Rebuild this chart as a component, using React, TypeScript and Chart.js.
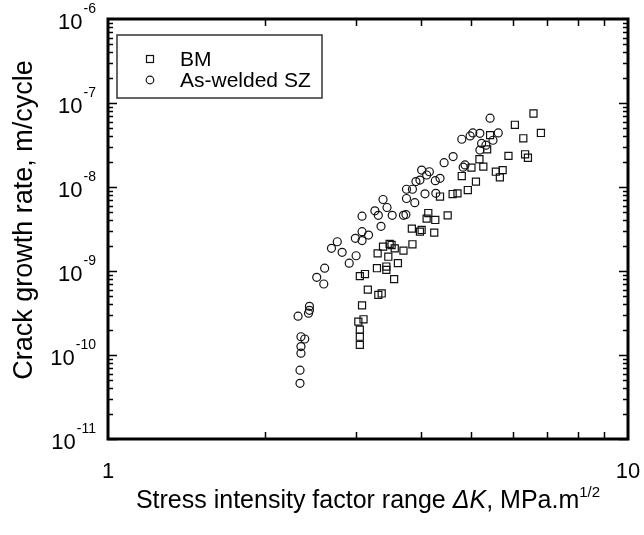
import { useEffect, useRef } from 'react';
import { Chart, registerables } from 'chart.js';

Chart.register(...registerables);

// ---- Data ----
const bmDeltaK = [
  3.05, 3.05, 3.05, 3.03, 3.10, 3.08, 3.16, 3.31, 3.36, 3.05,
  3.12, 3.29, 3.43, 3.55, 3.30, 3.38, 3.51, 3.46, 3.61, 3.70,
  3.85, 3.84, 3.98, 4.10, 4.13, 6.58, 6.06, 6.80, 6.29, 5.43,
  5.36, 5.89, 6.34, 6.42, 5.18, 5.27, 5.00, 5.57, 5.74, 5.67,
  4.79, 5.10, 4.35, 4.60, 4.70, 4.92, 4.50, 4.26, 4.01, 4.24,
  3.48, 3.56, 3.43,
];
const bmRate = [
  1.32e-10, 1.65e-10, 2.0e-10, 2.5e-10, 2.66e-10, 3.9e-10, 6.0e-10, 5.2e-10, 5.4e-10, 8.7e-10,
  9.2e-10, 1.08e-9, 1.03e-9, 8.0e-10, 1.62e-9, 1.95e-9, 2.04e-9, 1.48e-9, 1.24e-9, 1.75e-9,
  2.08e-9, 3.2e-9, 2.94e-9, 4.2e-9, 4.9e-9, 7.5e-8, 5.5e-8, 4.4e-8, 3.8e-8, 4.15e-8,
  2.8e-8, 2.35e-8, 2.45e-8, 2.23e-8, 2.14e-8, 1.75e-8, 1.7e-8, 1.52e-8, 1.59e-8, 1.3e-8,
  1.35e-8, 1.16e-8, 7.7e-9, 8.25e-9, 8.4e-9, 9.2e-9, 4.6e-9, 4.05e-9, 3.08e-9, 2.86e-9,
  2.1e-9, 1.86e-9, 1.13e-9,
];
const szDeltaK = [
  2.32, 2.44, 2.44, 2.43, 2.35, 2.39, 2.35, 2.35, 2.34, 2.34,
  2.52, 2.61, 2.60, 2.69, 2.76, 2.82, 2.91, 3.00, 2.99, 3.08,
  3.08, 3.17, 3.08, 3.26, 3.31, 3.38, 3.44, 3.35, 3.52, 3.70,
  3.74, 3.75, 3.85, 3.89, 3.91, 3.98, 4.01, 4.07, 3.75, 4.10,
  5.43, 5.63, 4.79, 4.97, 5.03, 5.19, 5.23, 5.33, 5.50, 5.19,
  4.61, 4.43, 4.86, 4.82, 4.15, 4.35, 4.26, 4.27,
];
const szRate = [
  2.9e-10, 3.8e-10, 3.4e-10, 3.15e-10, 1.65e-10, 1.55e-10, 1.26e-10, 1.05e-10, 6.6e-11, 4.6e-11,
  8.4e-10, 1.08e-9, 7.0e-10, 1.86e-9, 2.23e-9, 1.67e-9, 1.24e-9, 1.52e-9, 2.45e-9, 2.94e-9,
  2.3e-9, 2.68e-9, 4.5e-9, 5.2e-9, 4.6e-9, 7.1e-9, 5.7e-9, 3.4e-9, 4.6e-9, 4.6e-9,
  4.7e-9, 9.4e-9, 9.4e-9, 6.5e-9, 1.16e-8, 1.21e-8, 1.59e-8, 8.3e-9, 7.3e-9, 1.39e-8,
  6.6e-8, 4.4e-8, 3.7e-8, 4.05e-8, 4.4e-8, 4.35e-8, 3.3e-8, 3.15e-8, 3.6e-8, 2.75e-8,
  2.3e-8, 1.95e-8, 1.83e-8, 1.72e-8, 1.52e-8, 1.27e-8, 1.19e-8, 8.4e-9,
];

const seriesLabels = ['BM', 'As-welded SZ'];
const yExponents = [-11, -10, -9, -8, -7, -6];
const xTickValues = [1, 10];
const xMinorTicks = [2, 3, 4, 5, 6, 7, 8, 9];
const xTitleMain = 'Stress intensity factor range ';
const xTitleSymbol = 'ΔK';
const xTitleUnit = ', MPa.m';
const xTitleSup = '1/2';
const yTitle = 'Crack growth rate, m/cycle';

const FONT = '"Liberation Sans", Arial, Helvetica, sans-serif';

const toPoints = (xs: number[], ys: number[]) => xs.map((x, i) => ({ x, y: ys[i] }));

const framePlugin = {
  id: 'framePlugin',
  afterDraw(chart: any) {
    const { ctx, chartArea: a, scales } = chart;
    const xs = scales.x;
    const ys = scales.y;
    ctx.save();
    ctx.strokeStyle = '#000';
    ctx.fillStyle = '#000';

    // y ticks (inward, both sides)
    ctx.lineWidth = 1.5;
    for (let e = yExponents[0]; e < yExponents[yExponents.length - 1]; e++) {
      for (let m = 1; m <= 9; m++) {
        const v = m * Math.pow(10, e);
        const py = Math.round(ys.getPixelForValue(v)) + 0.5;
        const len = m === 1 ? 9 : 5;
        ctx.beginPath();
        ctx.moveTo(a.left, py);
        ctx.lineTo(a.left + len, py);
        ctx.moveTo(a.right, py);
        ctx.lineTo(a.right - len, py);
        ctx.stroke();
      }
    }
    // x ticks (inward, top & bottom)
    for (const m of xMinorTicks) {
      const px = Math.round(xs.getPixelForValue(m)) + 0.5;
      ctx.beginPath();
      ctx.moveTo(px, a.bottom);
      ctx.lineTo(px, a.bottom - 7);
      ctx.moveTo(px, a.top);
      ctx.lineTo(px, a.top + 7);
      ctx.stroke();
    }

    // frame
    ctx.lineWidth = 3;
    ctx.strokeRect(a.left, a.top, a.right - a.left, a.bottom - a.top);

    // y tick labels 10^e
    ctx.textBaseline = 'alphabetic';
    for (const e of yExponents) {
      const py = ys.getPixelForValue(Math.pow(10, e));
      const supText = String(e);
      ctx.font = `14px ${FONT}`;
      const supW = ctx.measureText(supText).width;
      const right = a.left - 12;
      ctx.textAlign = 'right';
      ctx.fillText(supText, right, py - 6);
      ctx.font = `22px ${FONT}`;
      ctx.fillText('10', right - supW - 1, py + 10);
    }

    // x tick labels
    ctx.font = `22px ${FONT}`;
    ctx.textAlign = 'center';
    for (const v of xTickValues) {
      const px = xs.getPixelForValue(v);
      ctx.fillText(String(v), px, a.bottom + 39);
    }

    // x title
    ctx.textAlign = 'left';
    ctx.font = `25px ${FONT}`;
    const w1 = ctx.measureText(xTitleMain).width;
    ctx.font = `italic 25px ${FONT}`;
    const w2 = ctx.measureText(xTitleSymbol).width;
    ctx.font = `25px ${FONT}`;
    const w3 = ctx.measureText(xTitleUnit).width;
    ctx.font = `15px ${FONT}`;
    const w4 = ctx.measureText(xTitleSup).width;
    const total = w1 + w2 + w3 + w4;
    let tx = (a.left + a.right) / 2 - total / 2;
    const ty = a.bottom + 69;
    ctx.font = `25px ${FONT}`;
    ctx.fillText(xTitleMain, tx, ty);
    tx += w1;
    ctx.font = `italic 25px ${FONT}`;
    ctx.fillText(xTitleSymbol, tx, ty);
    tx += w2;
    ctx.font = `25px ${FONT}`;
    ctx.fillText(xTitleUnit, tx, ty);
    tx += w3;
    ctx.font = `15px ${FONT}`;
    ctx.fillText(xTitleSup, tx, ty - 11);

    // y title
    ctx.save();
    ctx.translate(32, 220);
    ctx.rotate(-Math.PI / 2);
    ctx.textAlign = 'center';
    ctx.font = `27px ${FONT}`;
    ctx.fillText(yTitle, 0, 0);
    ctx.restore();

    // legend
    const lx = a.left + 9;
    const ly = a.top + 16;
    const lw = 205;
    const lh = 63;
    ctx.fillStyle = '#fff';
    ctx.fillRect(lx, ly, lw, lh);
    ctx.strokeStyle = '#333';
    ctx.lineWidth = 1.5;
    ctx.strokeRect(lx, ly, lw, lh);
    ctx.fillStyle = '#000';
    ctx.font = `21px ${FONT}`;
    ctx.textAlign = 'left';
    ctx.textBaseline = 'middle';
    const rows = [ly + 24, ly + 45];
    chart.data.datasets.forEach((ds: any, i: number) => {
      const cy = rows[i];
      const cx = lx + 33;
      ctx.strokeStyle = '#111';
      ctx.lineWidth = 1.2;
      if (ds.pointStyle === 'rect') {
        ctx.strokeRect(cx - 3.5, cy - 3.5, 7, 7);
      } else {
        ctx.beginPath();
        ctx.arc(cx, cy, 3.8, 0, Math.PI * 2);
        ctx.stroke();
      }
      ctx.fillText(ds.label, lx + 63, cy + 1);
    });

    ctx.restore();
  },
};

export default function App() {
  const canvasRef = useRef<HTMLCanvasElement | null>(null);

  useEffect(() => {
    document.body.style.margin = '0';
    const canvas = canvasRef.current;
    if (!canvas) return;
    const chart = new Chart(canvas, {
      type: 'scatter',
      data: {
        datasets: [
          {
            label: seriesLabels[0],
            data: toPoints(bmDeltaK, bmRate),
            pointStyle: 'rect',
            pointRadius: 5,
            borderColor: '#111',
            backgroundColor: 'rgba(0,0,0,0)',
            borderWidth: 1.2,
          },
          {
            label: seriesLabels[1],
            data: toPoints(szDeltaK, szRate),
            pointStyle: 'circle',
            pointRadius: 4,
            borderColor: '#111',
            backgroundColor: 'rgba(0,0,0,0)',
            borderWidth: 1.2,
          },
        ],
      },
      options: {
        responsive: false,
        animation: false,
        devicePixelRatio: 1,
        layout: { padding: { left: 108, top: 19, right: 16, bottom: 96 } },
        plugins: { legend: { display: false }, tooltip: { enabled: false } },
        scales: {
          x: { type: 'logarithmic', min: 1, max: 10, display: false },
          y: { type: 'logarithmic', min: 1e-11, max: 1e-6, display: false },
        },
      },
      plugins: [framePlugin],
    });
    return () => chart.destroy();
  }, []);

  return (
    <div style={{ width: 644, height: 535 }}>
      <canvas ref={canvasRef} width={644} height={535} style={{ display: 'block' }} />
    </div>
  );
}
